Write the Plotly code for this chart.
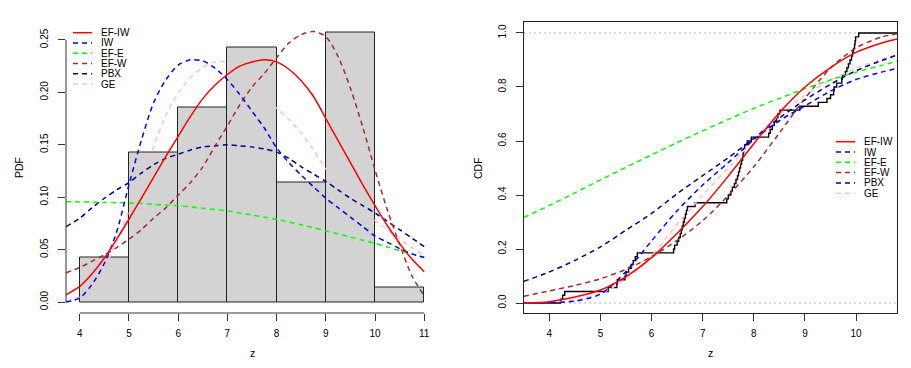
import plotly.graph_objects as go

W, H = 911, 368

# ---------------- data ----------------
# observed sample, read from the steps of the empirical CDF (n = 70)
SAMPLE = [4.22, 4.26, 4.30,
          5.15, 5.32, 5.33, 5.48, 5.50, 5.55, 5.60, 5.64, 5.68, 5.72,
          6.43, 6.45, 6.50, 6.53, 6.56, 6.58, 6.60, 6.62, 6.64, 6.66, 6.68, 6.70, 6.85,
          7.47, 7.50, 7.55, 7.58, 7.62, 7.65, 7.68, 7.70, 7.72, 7.74, 7.76, 7.78, 7.79,
          7.80, 7.82, 7.87, 7.95,
          8.29, 8.32, 8.36, 8.40, 8.44, 8.47, 8.51, 8.90,
          9.26, 9.43, 9.50, 9.56, 9.57, 9.62, 9.72, 9.73, 9.79, 9.82, 9.85, 9.88, 9.91,
          9.93, 9.95, 9.97, 9.98, 9.99,
          10.05]
HIST_START, HIST_END, HIST_SIZE = 4, 11, 1

SERIES = ["EF-IW", "IW", "EF-E", "EF-W", "PBX", "GE"]

# fitted densities
PDF_Z = [3.72, 4.0, 4.25, 4.5, 4.75, 5.0, 5.25, 5.5, 5.75, 6.0, 6.25, 6.5, 6.75, 7.0, 7.25,
         7.5, 7.75, 8.0, 8.25, 8.5, 8.75, 9.0, 9.25, 9.5, 9.75, 10.0, 10.25, 10.5, 10.75, 11.0]
PDF_EFIW = [0.007, 0.015, 0.027, 0.042, 0.060, 0.079, 0.099, 0.119, 0.139, 0.158, 0.177, 0.194,
            0.207, 0.217, 0.225, 0.229, 0.231, 0.229, 0.222, 0.211, 0.196, 0.175, 0.154, 0.133,
            0.112, 0.092, 0.073, 0.056, 0.041, 0.029]
PDF_IW = [0.0, 0.004, 0.017, 0.037, 0.067, 0.112, 0.154, 0.190, 0.212, 0.226, 0.231, 0.230,
          0.223, 0.212, 0.198, 0.182, 0.166, 0.147, 0.133, 0.121, 0.110, 0.099, 0.090, 0.081,
          0.072, 0.063, 0.057, 0.051, 0.046, 0.0425]
PDF_EFE = [0.0957, 0.0955, 0.0953, 0.0950, 0.0948, 0.0945, 0.0940, 0.0932, 0.0925, 0.0920,
           0.0908, 0.0895, 0.0883, 0.0870, 0.0850, 0.0830, 0.0810, 0.0790, 0.0763, 0.0737,
           0.0710, 0.0680, 0.0650, 0.0620, 0.0590, 0.0560, 0.0525, 0.0490, 0.0458, 0.0425]
PDF_EFW = [0.028, 0.033, 0.039, 0.045, 0.052, 0.060, 0.069, 0.080, 0.090, 0.102, 0.114, 0.129,
           0.149, 0.168, 0.188, 0.205, 0.218, 0.233, 0.247, 0.255, 0.258, 0.253, 0.234, 0.204,
           0.167, 0.126, 0.088, 0.055, 0.025, 0.006]
PDF_PBX = [0.072, 0.080, 0.090, 0.099, 0.107, 0.114, 0.123, 0.131, 0.137, 0.141, 0.145, 0.148,
           0.149, 0.150, 0.149, 0.148, 0.146, 0.143, 0.137, 0.129, 0.122, 0.115, 0.107, 0.099,
           0.092, 0.085, 0.077, 0.069, 0.061, 0.053]
PDF_GE = [0.001, 0.005, 0.015, 0.033, 0.058, 0.087, 0.117, 0.148, 0.178, 0.199, 0.214, 0.224,
          0.229, 0.229, 0.223, 0.211, 0.196, 0.185, 0.174, 0.161, 0.145, 0.127, 0.112, 0.098,
          0.087, 0.078, 0.069, 0.060, 0.052, 0.044]

# fitted distribution functions
CDF_Z = [3.5, 4.0, 4.5, 5.0, 5.5, 6.0, 6.5, 7.0, 7.5, 8.0, 8.5, 9.0, 9.5, 10.0, 10.5, 10.8]
CDF_EFIW = [0.0, 0.005, 0.022, 0.048, 0.098, 0.168, 0.258, 0.357, 0.470, 0.590, 0.705, 0.800,
            0.872, 0.928, 0.963, 0.978]
CDF_IW = [0.0, 0.001, 0.007, 0.033, 0.117, 0.230, 0.342, 0.437, 0.520, 0.605, 0.675, 0.730,
          0.785, 0.828, 0.855, 0.869]
CDF_EFE = [0.317, 0.361, 0.408, 0.456, 0.503, 0.549, 0.594, 0.638, 0.680, 0.721, 0.758, 0.794,
           0.826, 0.855, 0.880, 0.896]
CDF_EFW = [0.025, 0.045, 0.065, 0.090, 0.125, 0.172, 0.232, 0.305, 0.398, 0.505, 0.630, 0.758,
           0.870, 0.945, 0.985, 0.997]
CDF_PBX = [0.080, 0.115, 0.158, 0.208, 0.270, 0.332, 0.405, 0.472, 0.538, 0.610, 0.685, 0.752,
           0.810, 0.860, 0.898, 0.918]
CDF_GE = [0.0, 0.002, 0.012, 0.035, 0.088, 0.175, 0.292, 0.400, 0.500, 0.605, 0.698, 0.770,
          0.825, 0.870, 0.902, 0.920]

PDF_TICKS = [0.00, 0.05, 0.10, 0.15, 0.20, 0.25]
PDF_XTICKS = [4, 5, 6, 7, 8, 9, 10, 11]
CDF_TICKS = [0.0, 0.2, 0.4, 0.6, 0.8, 1.0]
CDF_XTICKS = [4, 5, 6, 7, 8, 9, 10]

# ---------------- styles ----------------
COLORS = ["#FF0000", "#0000FF", "#00FF00", "#A52A2A", "#00008B", "#FFC0CB"]
DASHES = ["solid", "5px,4px", "5px,4px", "5px,4px", "5px,4px", "5px,4px"]
LW = 1.5
FONT = "Liberation Sans, Arial, Helvetica, sans-serif"

PDF_VALUES = [PDF_EFIW, PDF_IW, PDF_EFE, PDF_EFW, PDF_PBX, PDF_GE]
CDF_VALUES = [CDF_EFIW, CDF_IW, CDF_EFE, CDF_EFW, CDF_PBX, CDF_GE]

def px(x):
    return x / W

def py(y):
    return 1 - y / H

LEFT_X = [px(66), px(438)]
LEFT_Y = [py(313), py(18.5)]
RIGHT_X = [px(524), px(897)]
RIGHT_Y = [py(313), py(22)]

LEFT_XRANGE = [3.72, 11.28]
LEFT_YRANGE = [-0.0104, 0.2704]
RIGHT_XRANGE = [3.504, 10.80]
RIGHT_YRANGE = [-0.037, 1.0407]

fig = go.Figure()

# histogram
fig.add_trace(go.Histogram(
    x=SAMPLE, xbins=dict(start=HIST_START, end=HIST_END, size=HIST_SIZE),
    histnorm="probability density",
    marker=dict(color="#D3D3D3", line=dict(color="#222222", width=1)),
    xaxis="x", yaxis="y", showlegend=False, hoverinfo="skip"))

# densities (drawn in reverse so EF-IW sits on top)
for name, col, dash, vals in reversed(list(zip(SERIES, COLORS, DASHES, PDF_VALUES))):
    fig.add_trace(go.Scatter(x=PDF_Z, y=vals, mode="lines", name=name,
                             line=dict(color=col, dash=dash, width=LW, shape="spline", smoothing=0.8),
                             xaxis="x", yaxis="y", showlegend=False))

# empirical CDF
srt = sorted(SAMPLE)
n = len(srt)
ex = [RIGHT_XRANGE[0]] + srt + [RIGHT_XRANGE[1]]
ey = [0.0] + [(i + 1) / n for i in range(n)] + [1.0]
fig.add_trace(go.Scatter(x=ex, y=ey, mode="lines", line=dict(color="black", width=1.4, shape="hv"),
                         xaxis="x2", yaxis="y2", showlegend=False))

for name, col, dash, vals in reversed(list(zip(SERIES, COLORS, DASHES, CDF_VALUES))):
    fig.add_trace(go.Scatter(x=CDF_Z, y=vals, mode="lines", name=name,
                             line=dict(color=col, dash=dash, width=LW, shape="spline", smoothing=0.8),
                             xaxis="x2", yaxis="y2", showlegend=False))

shapes = []
annotations = []

# R-style axis lines for the histogram panel (spanning the tick range only)
shapes.append(dict(type="line", xref="x", yref="y domain", x0=PDF_XTICKS[0], x1=PDF_XTICKS[-1],
                   y0=0, y1=0, line=dict(color="#333333", width=1)))
shapes.append(dict(type="line", xref="x domain", yref="y", x0=0, x1=0, y0=PDF_TICKS[0],
                   y1=PDF_TICKS[-1], line=dict(color="#333333", width=1)))

# gray dotted reference lines of the ECDF plot
for yv in (0, 1):
    shapes.append(dict(type="line", xref="x2 domain", yref="y2", x0=0, x1=1, y0=yv, y1=yv,
                       line=dict(color="#B3B3B3", width=1.2, dash="2px,3px"), layer="below"))

# manual legends (R style compact legend)
def legend(x_line0, x_line1, x_text, y0, step):
    for i, (name, col, dash) in enumerate(zip(SERIES, COLORS, DASHES)):
        yy = y0 + i * step
        shapes.append(dict(type="line", xref="paper", yref="paper", x0=px(x_line0), x1=px(x_line1),
                           y0=py(yy), y1=py(yy), line=dict(color=col, width=LW, dash=dash)))
        annotations.append(dict(text=name, xref="paper", yref="paper", x=px(x_text), y=py(yy),
                                xanchor="left", yanchor="middle", showarrow=False,
                                font=dict(size=10, color="black", family=FONT)))

legend(73, 92, 99, 32.7, 10.27)
legend(836, 855, 862, 141.7, 10.3)

# axis titles
for txt, x, y, ang in [("PDF", 19, 168, -90), ("z", 252, 353, 0), ("CDF", 478, 168, -90), ("z", 710, 353, 0)]:
    annotations.append(dict(text=txt, xref="paper", yref="paper", x=px(x), y=py(y),
                            xanchor="center", yanchor="middle", showarrow=False, textangle=ang,
                            font=dict(size=10.5, color="black", family=FONT)))

tickfont = dict(size=10, color="black", family=FONT)
common = dict(showgrid=False, zeroline=False, ticks="outside", ticklen=7, tickcolor="#333333",
              tickwidth=1, tickfont=tickfont)

fig.update_layout(
    width=W, height=H, margin=dict(l=0, r=0, t=0, b=0),
    paper_bgcolor="white", plot_bgcolor="white", bargap=0,
    font=dict(family=FONT, color="black"),
    xaxis=dict(domain=LEFT_X, range=LEFT_XRANGE, tickvals=PDF_XTICKS, showline=False,
               anchor="y", ticklabelstandoff=4, **common),
    yaxis=dict(domain=LEFT_Y, range=LEFT_YRANGE, tickvals=PDF_TICKS, tickformat=".2f",
               tickangle=-90, showline=False, anchor="x", ticklabelstandoff=6, **common),
    xaxis2=dict(domain=RIGHT_X, range=RIGHT_XRANGE, tickvals=CDF_XTICKS, showline=True,
                linecolor="#222222", linewidth=1, mirror=True, anchor="y2",
                ticklabelstandoff=4, **common),
    yaxis2=dict(domain=RIGHT_Y, range=RIGHT_YRANGE, tickvals=CDF_TICKS, tickformat=".1f",
                tickangle=-90, showline=True, linecolor="#222222", linewidth=1, mirror=True,
                anchor="x2", ticklabelstandoff=6, **common),
    shapes=shapes, annotations=annotations,
)

# remove the browser's default 8px body margin so the figure sits at the page origin
fig.write_html("out.html", config={"displayModeBar": False},
               post_script="document.body.style.margin='0';document.body.style.overflow='hidden';")
